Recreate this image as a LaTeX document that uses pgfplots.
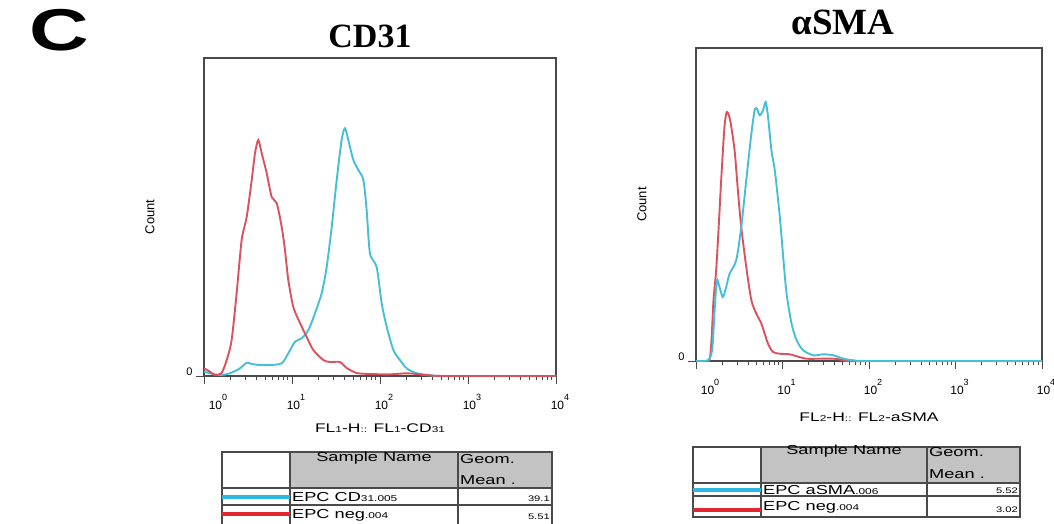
\documentclass[border=0pt]{standalone}
\usepackage{fontspec}
\setmainfont{Liberation Sans}[FakeStretch=1.4]
\newfontfamily\plainsans{Liberation Sans}
\newfontfamily\titlefont{Liberation Serif}
\usepackage{pgfplots}
\usepackage{pgfplotstable}
\pgfplotsset{compat=1.18}

\definecolor{hcyan}{HTML}{45BFD8}
\definecolor{hred}{HTML}{D9535F}
\definecolor{lcyan}{HTML}{2DB6E2}
\definecolor{lred}{HTML}{E2252E}
\definecolor{frame}{HTML}{4A4A4A}
\definecolor{hdr}{HTML}{C3C3C3}

\newcommand\dec[1]{10\raisebox{9pt}{\fontsize{9}{9}\selectfont #1}}
\newcommand\sm[1]{{\fontsize{8.5}{8.5}\selectfont #1}}

% histograms, x in decades (log10 of fluorescence), y = count in plot units
\pgfplotstableread{
lx n
0.000 7.7
0.068 4.3
0.125 1
0.200 3
0.258 16
0.314 36
0.371 83
0.428 136
0.485 159
0.542 196
0.580 223
0.617 236
0.655 223
0.712 203
0.769 179
0.826 173
0.883 149
0.920 126
0.958 96
1.015 69
1.091 53
1.167 39
1.242 26
1.356 16
1.432 14
1.545 14
1.621 8
1.735 3
1.886 2
2.114 1.7
2.303 2.7
2.417 2
2.568 0.7
2.760 0
4.000 0
}\cdneg

\pgfplotstableread{
lx n
0.000 4.3
0.068 2.7
0.182 1
0.295 2.7
0.409 7.7
0.485 13.3
0.542 12
0.636 11
0.750 11
0.883 12.7
0.958 22.7
1.034 34.3
1.110 37.7
1.186 46
1.261 62.7
1.337 82.7
1.394 109
1.451 149
1.508 196
1.564 236
1.602 247.7
1.640 236
1.697 216
1.754 206
1.811 196
1.848 166
1.886 122.7
1.962 109
2.019 72.7
2.076 49.3
2.152 26
2.227 16
2.303 7.7
2.417 2.7
2.568 0.7
2.758 0
4.000 0
}\cdpos

\pgfplotstableread{
lx n
0.000 0
0.155 0.7
0.202 60.7
0.233 90.7
0.264 137
0.291 181
0.329 234
0.357 249
0.395 240.7
0.446 210.7
0.484 170.7
0.523 134
0.581 94
0.640 60.7
0.698 47.3
0.756 37.3
0.833 17.3
0.891 9
0.969 7.3
1.085 6.7
1.163 4.7
1.279 2.3
1.434 2.3
1.589 2.3
1.744 0.7
1.899 0
4.000 0
}\smneg

\pgfplotstableread{
lx n
0.000 0
0.136 0.7
0.186 10.7
0.213 47.3
0.240 80.7
0.271 74
0.310 64
0.349 74
0.388 87.3
0.465 100.7
0.523 134
0.581 181
0.640 227.3
0.678 250.7
0.705 252.3
0.736 245.7
0.775 250.7
0.806 259
0.833 244
0.872 210.7
0.911 190.7
0.969 144
1.008 104
1.047 67.3
1.105 37.3
1.163 20.7
1.240 10.7
1.357 5.7
1.473 6.7
1.589 5.7
1.705 2.3
1.822 0.7
2.054 0
4.000 0
}\smpos

\pgfplotsset{
  facs/.style={
    scale only axis,
    xmin=0, xmax=4, ymin=0,
    axis line style={draw=frame, line width=1.2pt},
    tick align=outside,
    xtick pos=bottom, ytick pos=left,
    xtick={0,1,2,3,4},
    xticklabels={{\hspace{20pt}\dec{0}},{\dec{1}},{\dec{2}},{\dec{3}},{\dec{4}}},
    minor xtick={0.301,0.477,0.602,0.699,0.778,0.845,0.903,0.954,
                 1.301,1.477,1.602,1.699,1.778,1.845,1.903,1.954,
                 2.301,2.477,2.602,2.699,2.778,2.845,2.903,2.954,
                 3.301,3.477,3.602,3.699,3.778,3.845,3.903,3.954},
    ytick={0}, yticklabels={0},
    major tick length=8pt, minor tick length=4pt,
    every tick/.style={draw=frame, line width=1pt},
    tick label style={font=\plainsans\fontsize{12}{12}\selectfont},
    xticklabel style={xshift=4pt, yshift=-7pt},
    yticklabel style={yshift=4pt, font=\plainsans\fontsize{11}{11}\selectfont},
    ylabel={Count},
    every axis y label/.style={at={([xshift=-54pt]rel axis cs:0,0.5)},
      anchor=center, rotate=90, font=\plainsans\fontsize{13}{13}\selectfont},
    every axis x label/.style={at={(rel axis cs:0.5,0)}, anchor=center,
      font=\fontsize{12.5}{12.5}\selectfont},
    every axis plot/.append style={smooth, tension=0.45, line width=1.9pt},
  },
}

\begin{document}
\begin{tikzpicture}[x=1pt, y=-1pt]
\path[use as bounding box] (0,0) rectangle (1054,523);

\node[font=\fontsize{59}{59}\selectfont\bfseries] at (59,30) {C};
\node[font=\fontsize{34}{34}\selectfont\titlefont\bfseries] at (370,36) {CD31};
\node[font=\fontsize{37}{37}\selectfont\titlefont\bfseries] at (843,22) {αSMA};

\begin{axis}[facs, at={(204pt,-376pt)}, anchor=south west,
  width=352pt, height=318pt, ymax=318,
  xlabel={FL\sm{1}-H\sm{::} FL\sm{1}-CD\sm{31}},
  xlabel style={yshift=-52pt}]
\addplot[hcyan] table[x=lx, y=n] {\cdpos};
\addplot[hred] table[x=lx, y=n] {\cdneg};
\end{axis}

\begin{axis}[facs, at={(696pt,-361pt)}, anchor=south west,
  width=346pt, height=313pt, ymax=313,
  xlabel={FL\sm{2}-H\sm{::} FL\sm{2}-aSMA},
  xlabel style={yshift=-56pt}]
\addplot[hred] table[x=lx, y=n] {\smneg};
\addplot[hcyan] table[x=lx, y=n] {\smpos};
\end{axis}

% sample table, CD31
\fill[hdr] (291,453) rectangle (457,487);
\fill[hdr] (459,453) rectangle (551,487);
\draw[frame, line width=1.1pt] (222,530) -- (222,452) -- (552,452) -- (552,530);
\draw[frame, line width=1.1pt] (290,452) -- (290,530) (458,452) -- (458,530);
\draw[frame, line width=1.1pt] (222,488) -- (552,488) (222,505) -- (552,505);
\draw[lcyan, line width=4pt] (222,496.5) -- (290,496.5);
\draw[lred, line width=4pt] (222,514) -- (290,514);
\begin{scope}[every node/.style={font=\fontsize{13}{13}\selectfont, inner sep=1pt}]
\node at (374,458) {Sample Name};
\node[anchor=west] at (459,459) {Geom.};
\node[anchor=west] at (459,480) {Mean .};
\node[anchor=west] at (291,497) {EPC CD\sm{31.005}};
\node[anchor=west] at (291,515) {EPC neg\sm{.004}};
\node[anchor=east, font=\fontsize{8}{8}\selectfont] at (551,499) {39.1};
\node[anchor=east, font=\fontsize{8}{8}\selectfont] at (551,517) {5.51};
\end{scope}

% sample table, aSMA
\fill[hdr] (762,448) rectangle (926,482);
\fill[hdr] (928,448) rectangle (1019,482);
\draw[frame, line width=1.1pt] (693,447) rectangle (1020,517);
\draw[frame, line width=1.1pt] (761,447) -- (761,517) (927,447) -- (927,517);
\draw[frame, line width=1.1pt] (693,483) -- (1020,483) (693,496) -- (1020,496);
\draw[lcyan, line width=4pt] (693,490) -- (761,490);
\draw[lred, line width=4pt] (693,510) -- (761,510);
\begin{scope}[every node/.style={font=\fontsize{13}{13}\selectfont, inner sep=1pt}]
\node at (844,451) {Sample Name};
\node[anchor=west] at (928,452) {Geom.};
\node[anchor=west] at (928,474) {Mean .};
\node[anchor=west] at (762,490) {EPC aSMA\sm{.006}};
\node[anchor=west] at (762,507) {EPC neg\sm{.004}};
\node[anchor=east, font=\fontsize{8}{8}\selectfont] at (1019,491) {5.52};
\node[anchor=east, font=\fontsize{8}{8}\selectfont] at (1019,510) {3.02};
\end{scope}
\end{tikzpicture}
\end{document}
